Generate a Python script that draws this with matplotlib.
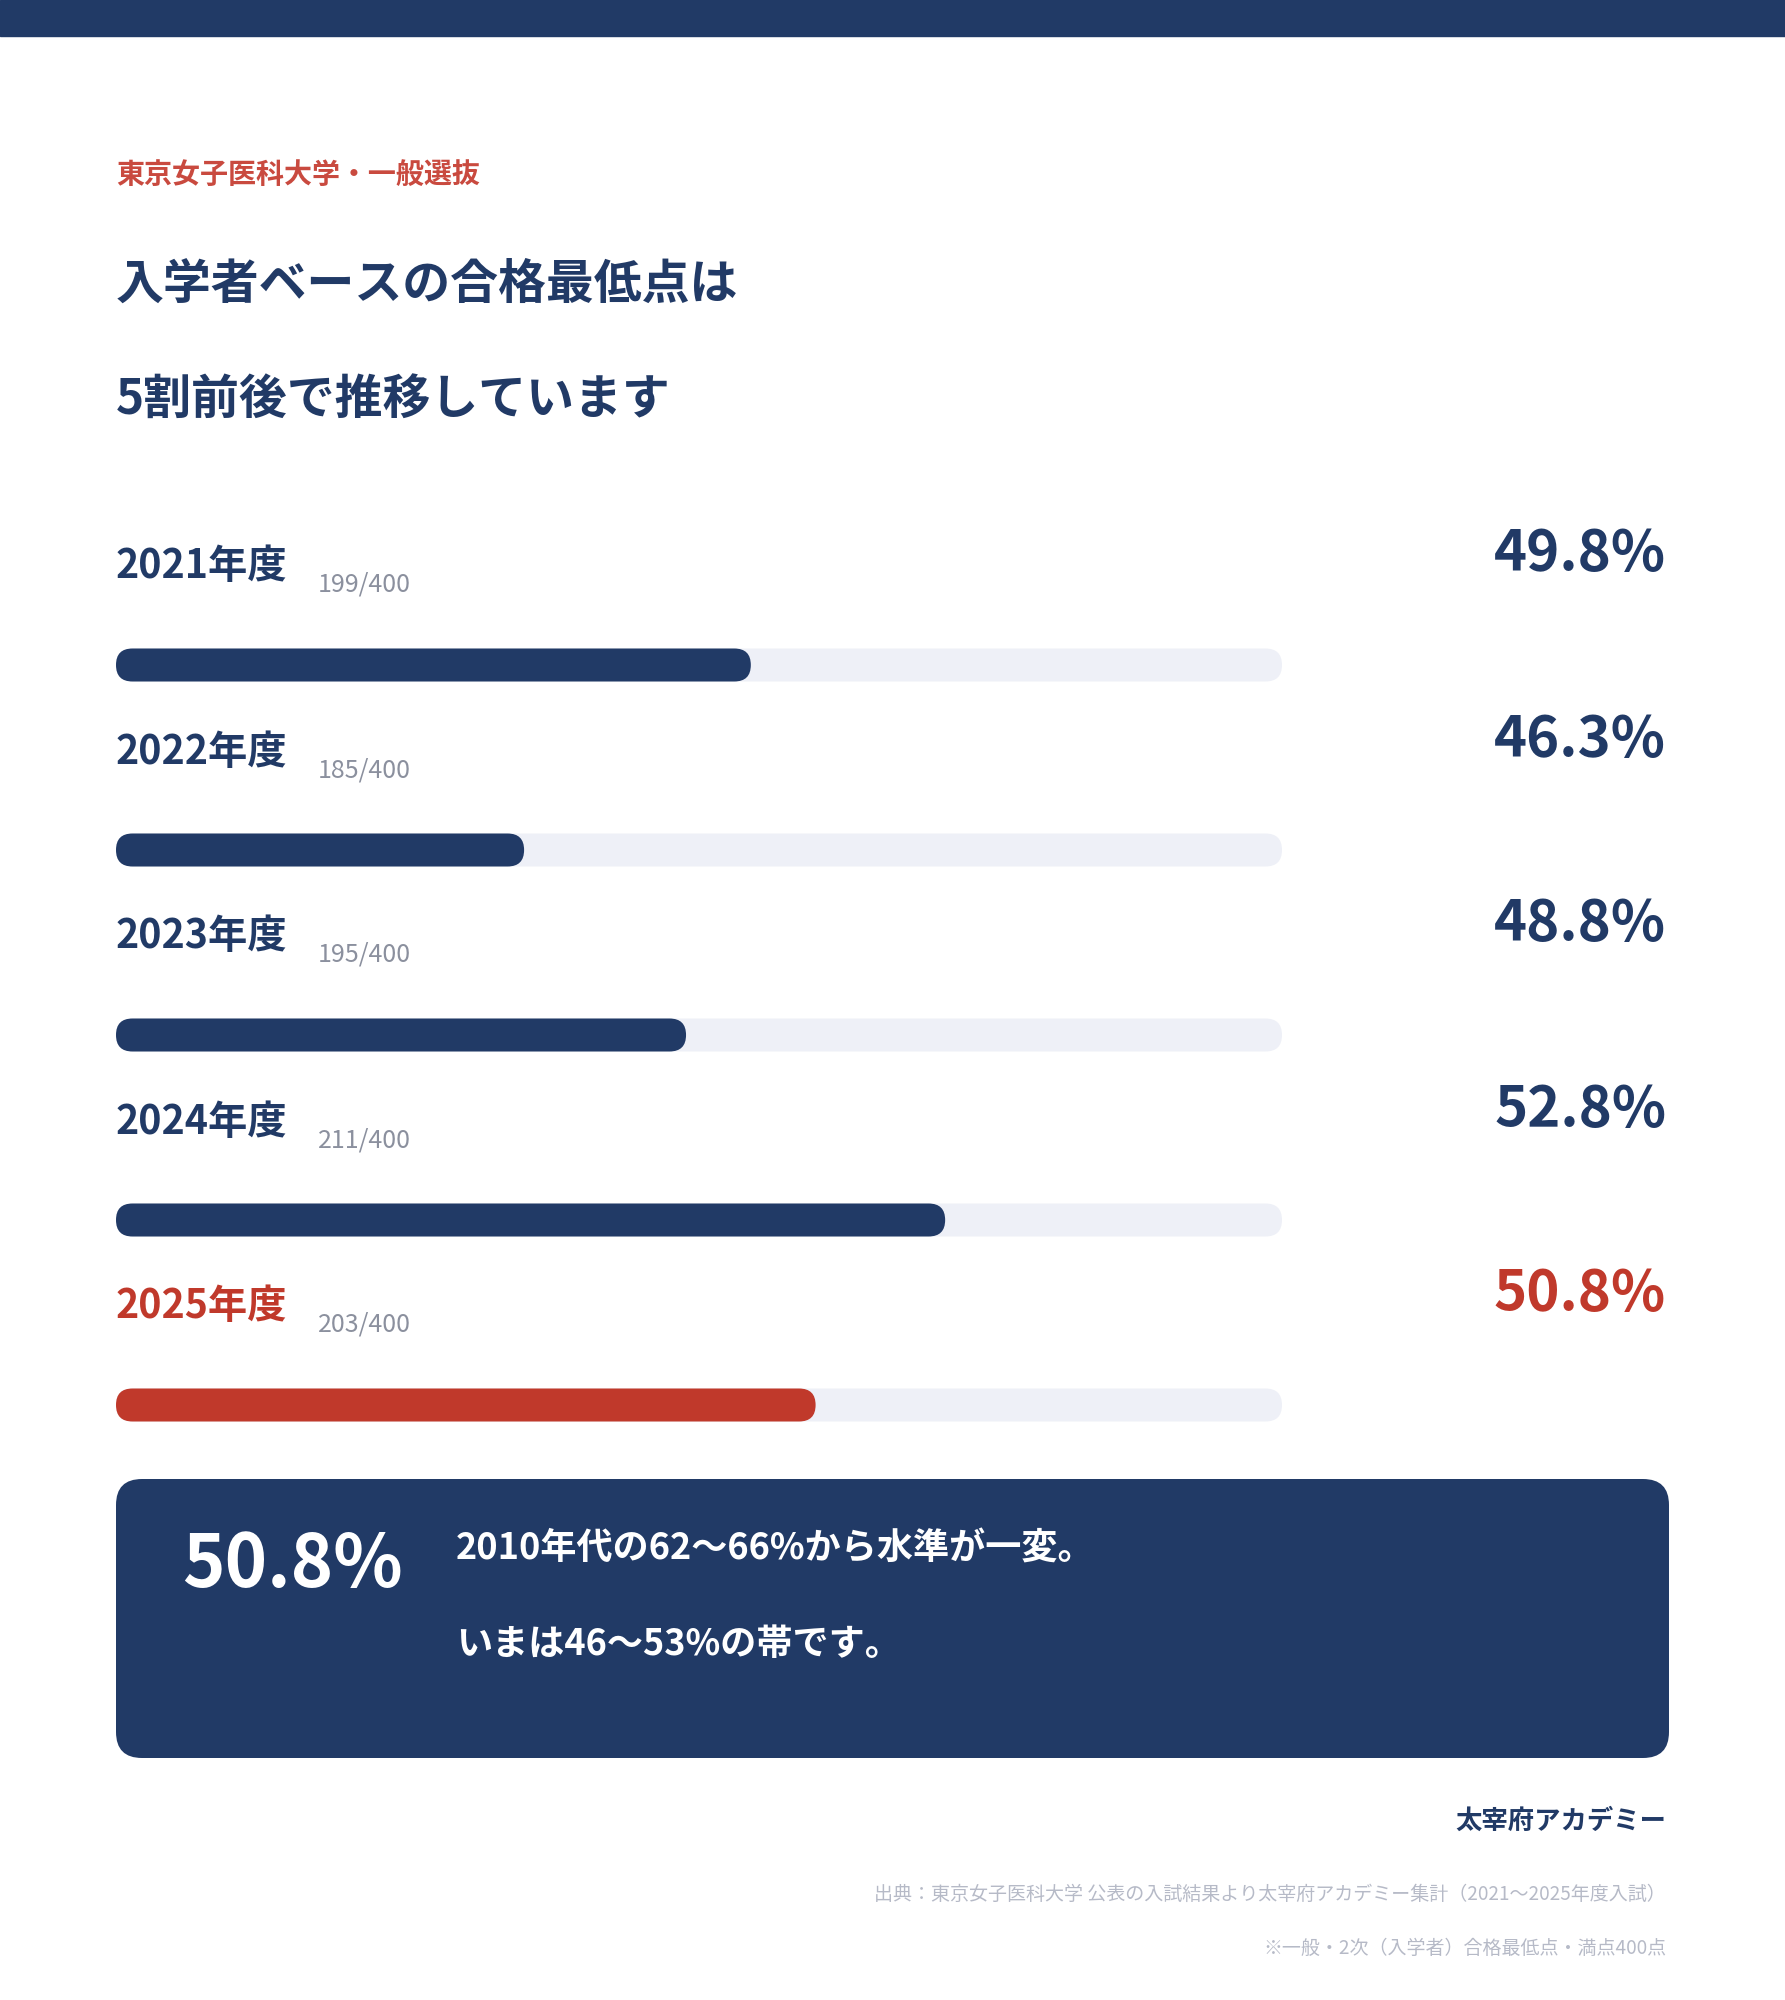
import matplotlib
matplotlib.use("Agg")
import matplotlib.pyplot as plt
from matplotlib.patches import FancyBboxPatch, Rectangle

plt.rcParams['font.family'] = ['Noto Sans CJK JP', 'DejaVu Sans']

# data
years = ["2021年度", "2022年度", "2023年度", "2024年度", "2025年度"]
scores = ["199/400", "185/400", "195/400", "211/400", "203/400"]
rates = [49.8, 46.3, 48.8, 52.8, 50.8]
highlight = 4  # latest year in red

scale_min, scale_max = 40, 58  # bar track covers 40% .. 58%

label_top = "東京女子医科大学・一般選抜"
title_lines = ["入学者ベースの合格最低点は", "5割前後で推移しています"]
box_lines = ["2010年代の62〜66%から水準が一変。", "いまは46〜53%の帯です。"]
credit = "太宰府アカデミー"
source = "出典：東京女子医科大学 公表の入試結果より太宰府アカデミー集計（2021〜2025年度入試）"
note = "※一般・2次（入学者）合格最低点・満点400点"

NAVY = "#213a66"
RED = "#c0392b"
RED_LIGHT = "#c94a3f"
TRACK = "#eef0f7"
GRAY = "#8b909e"
LIGHT = "#b6bac7"

W, H = 1785, 2000
fig = plt.figure(figsize=(W / 100, H / 100), dpi=100)
fig.patch.set_facecolor("white")

# background axes in pixel units for layout
bg = fig.add_axes([0, 0, 1, 1])
bg.set_xlim(0, W)
bg.set_ylim(H, 0)
bg.axis("off")

bg.add_patch(Rectangle((0, 0), W, 36, color=NAVY))

bg.text(116, 175, label_top, color=RED_LIGHT, fontsize=20.2, fontweight="bold", va="center")
bg.text(116, 284, title_lines[0], color=NAVY, fontsize=34.5, fontweight="bold", va="center")
bg.text(116, 399, title_lines[1], color=NAVY, fontsize=34.5, fontweight="bold", va="center")

n = len(years)
row0, step = 665, 185
colors = [RED if i == highlight else NAVY for i in range(n)]

for i in range(n):
    yc = row0 + i * step
    bg.text(116, yc - 98, years[i], color=colors[i], fontsize=28.3, fontweight="bold", va="center")
    bg.text(318, yc - 80, scores[i], color=GRAY, fontsize=18, va="center")
    bg.text(1666, yc - 111, f"{rates[i]:.1f}%", color=colors[i], fontsize=40.5,
            fontweight="bold", ha="right", va="center")

# bar axes
left, right = 116, 1282
top_px = row0 - step / 2
bot_px = row0 + (n - 1) * step + step / 2
bx = fig.add_axes([left / W, 1 - bot_px / H, (right - left) / W, (bot_px - top_px) / H])
bx.set_xlim(scale_min, scale_max)
bx.set_ylim(n - 0.5, -0.5)
bx.axis("off")

bar_h = 33 / step
ypos = list(range(n))
bx.barh(ypos, [scale_max - scale_min] * n, left=scale_min, height=bar_h, color=TRACK)
bx.barh(ypos, [r - scale_min for r in rates], left=scale_min, height=bar_h, color=colors)

# swap rectangles for rounded ones (pill shape)
x_per_px = (scale_max - scale_min) / (right - left)
y_per_px = n / (bot_px - top_px)
for k, p in enumerate(list(bx.patches)):
    x, y = p.get_xy()
    w, h = p.get_width(), p.get_height()
    rs = h / 2 / y_per_px * x_per_px
    rr = FancyBboxPatch((x, y), w, h, boxstyle=f"round,pad=0,rounding_size={rs}",
                        mutation_aspect=y_per_px / x_per_px,
                        fc=p.get_facecolor(), ec="none", zorder=2 + k // n)
    p.remove()
    bx.add_patch(rr)

# summary box
bg.add_patch(FancyBboxPatch((116, 1479), 1553, 279, boxstyle="round,pad=0,rounding_size=26",
                            fc=NAVY, ec="none"))
bg.text(182, 1566, f"{rates[highlight]:.1f}%", color="white", fontsize=52,
        fontweight="bold", va="center")
bg.text(456, 1549, box_lines[0], color="white", fontsize=26, fontweight="bold", va="center")
bg.text(456, 1644, box_lines[1], color="white", fontsize=26, fontweight="bold", va="center")

bg.text(1666, 1821, credit, color=NAVY, fontsize=19, fontweight="bold", ha="right", va="center")
bg.text(1666, 1894, source, color=LIGHT, fontsize=13.7, ha="right", va="center")
bg.text(1666, 1948, note, color=LIGHT, fontsize=13.7, ha="right", va="center")

fig.savefig("out.png", dpi=100)
